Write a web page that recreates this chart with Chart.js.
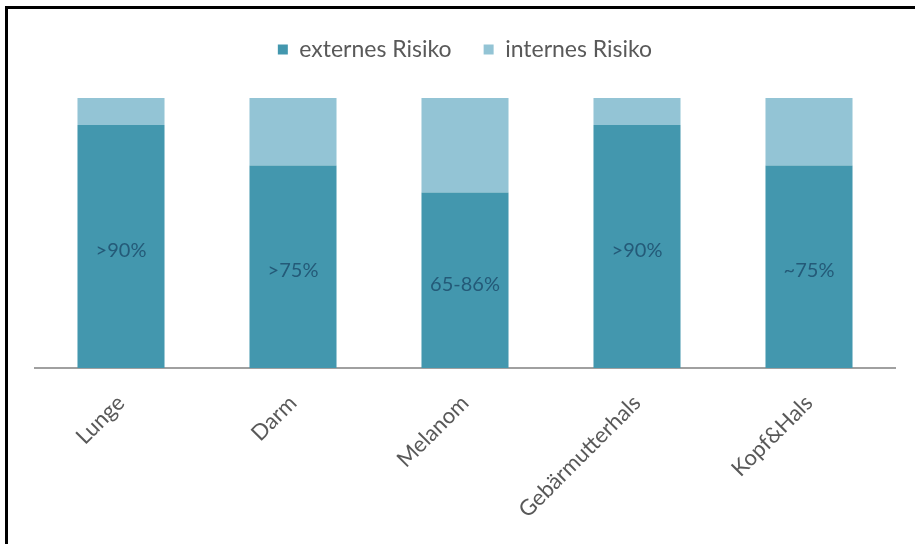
<!DOCTYPE html>
<html>
<head>
<meta charset="utf-8">
<script src="https://cdn.jsdelivr.net/npm/chart.js@4/dist/chart.umd.min.js"></script>
<style>
  html, body { margin: 0; padding: 0; background: #fff; }
  #wrap { position: relative; width: 915px; height: 544px; overflow: hidden; }
  #frame { position: absolute; left: 5px; top: 6px; width: 920px; height: 550px;
           border-top: 3px solid #000; border-left: 3px solid #000; pointer-events: none; }
  canvas { position: absolute; left: 0; top: 0; }
</style>
</head>
<body>
<div id="wrap">
  <canvas id="c" width="915" height="544"></canvas>
  <div id="frame"></div>
</div>
<script>
const categories = ['Lunge', 'Darm', 'Melanom', 'Gebärmutterhals', 'Kopf&Hals'];
const externesRisiko = [90, 75, 65, 90, 75];
const internesRisiko = [10, 25, 35, 10, 25];
const barLabels = ['>90%', '>75%', '65-86%', '>90%', '~75%'];
const seriesNames = ['externes Risiko', 'internes Risiko'];

const FONT = 'Lato, "Open Sans", sans-serif';

const labelPlugin = {
  id: 'barLabels',
  afterDatasetsDraw(chart) {
    const meta = chart.getDatasetMeta(0);
    const ctx = chart.ctx;
    ctx.save();
    ctx.font = '20px ' + FONT;
    ctx.fillStyle = '#245a78';
    ctx.textAlign = 'center';
    ctx.textBaseline = 'middle';
    meta.data.forEach((bar, i) => {
      const y = (bar.y + bar.base) / 2 + 4;
      ctx.fillText(barLabels[i], bar.x, y);
    });
    ctx.restore();
  }
};

const legendGap = {
  id: 'legendGap',
  beforeInit(chart) {
    const origFit = chart.legend.fit;
    chart.legend.fit = function () {
      origFit.bind(chart.legend)();
      this.height += 27;
    };
  }
};

new Chart(document.getElementById('c'), {
  type: 'bar',
  data: {
    labels: categories,
    datasets: [
      { label: seriesNames[0], data: externesRisiko, backgroundColor: '#4397ae' },
      { label: seriesNames[1], data: internesRisiko, backgroundColor: '#93c4d5' }
    ]
  },
  options: {
    responsive: false,
    animation: false,
    devicePixelRatio: 1,
    layout: { padding: { top: 6, left: 35, right: 20, bottom: 0 } },
    datasets: { bar: { categoryPercentage: 1.0, barPercentage: 0.506 } },
    plugins: {
      legend: {
        position: 'top',
        labels: {
          boxWidth: 10, boxHeight: 10, padding: 32,
          color: '#595959',
          font: { family: FONT, size: 23 }
        }
      },
      tooltip: { enabled: false }
    },
    scales: {
      x: {
        stacked: true,
        grid: { display: false, drawTicks: false },
        border: { display: true, color: '#a0a0a0', width: 2 },
        ticks: {
          color: '#595959',
          font: { family: FONT, size: 22 },
          minRotation: 45, maxRotation: 45,
          padding: 22
        },
        afterFit(scale) { scale.height = 176; }
      },
      y: {
        stacked: true,
        display: false,
        min: 0, max: 100
      }
    }
  },
  plugins: [labelPlugin, legendGap]
});
</script>
</body>
</html>
